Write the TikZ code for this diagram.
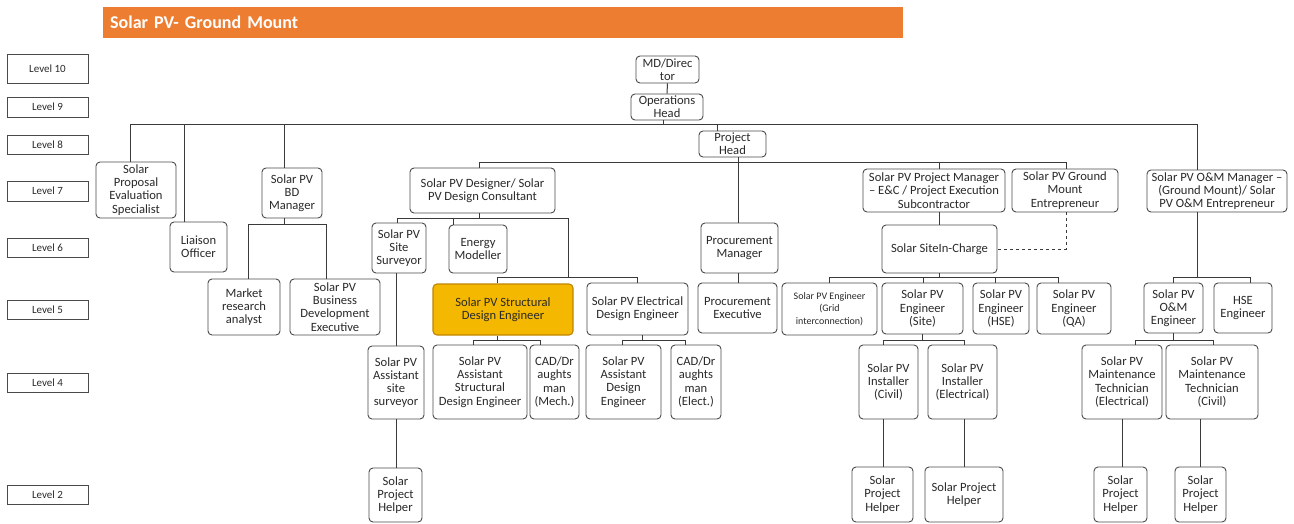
\documentclass[tikz,border=0pt]{standalone}
\usepackage{fontspec}
\setmainfont{Carlito}
\definecolor{titlec}{HTML}{ED7D31}
\definecolor{boxc}{HTML}{4A4A4A}
\definecolor{linec}{HTML}{3A3A3A}
\definecolor{txtc}{HTML}{2A2A2A}
\definecolor{goldc}{HTML}{F5B800}
\definecolor{goldb}{HTML}{C08400}
\tikzset{
  box/.style={draw=boxc, rounded corners=4pt, line width=0.9pt, fill=white, align=center,
    inner sep=1pt, text=txtc, font=\fontsize{12.6}{13.2}\selectfont},
  lvl/.style={draw=boxc, line width=1pt, fill=white, text=txtc, inner sep=0pt,
    font=\fontsize{11}{12}\selectfont},
  conn/.style={draw=linec, line width=1pt},
  hot/.style={fill=goldc, draw=goldb, line width=1.1pt}
}
\newcommand\pbx[7][]{\node[box,minimum width={#5-#3},minimum height={#6-#4},#1] (#2) at ({(#3+#5)/2},{(#4+#6)/2}) {#7};}
\newcommand\lbx[4]{\node[lvl,minimum width=81,minimum height={#4-#3}] (#1) at (47.5,{(#3+#4)/2}) {#2};}
\begin{document}
\begin{tikzpicture}[x=1pt,y=-1pt]
\useasboundingbox (0,0) rectangle (1294,523);
% title
\node[fill=titlec, anchor=north west, minimum width=800pt, minimum height=31pt, text width=786pt,
  inner xsep=7pt, inner ysep=0pt, align=left, text=white, font=\bfseries\fontsize{18}{20}\selectfont] (title) at (103,7) {Solar PV- Ground Mount};
% levels
\lbx{lv10}{Level 10}{54}{83}
\lbx{lv9}{Level 9}{97}{117}
\lbx{lv8}{Level 8}{135}{154}
\lbx{lv7}{Level 7}{181}{201}
\lbx{lv6}{Level 6}{238}{257}
\lbx{lv5}{Level 5}{300}{319}
\lbx{lv4}{Level 4}{373}{392}
\lbx{lv2}{Level 2}{485}{504}
% top
\pbx{md}{636}{56}{699}{83}{MD/Direc\\tor}
\pbx{ops}{631}{94}{703}{120}{Operations\\Head}
\pbx{ph}{699}{131}{766}{157}{Project\\Head}
% left branches
\pbx{spe}{96}{162}{176}{218}{Solar\\Proposal\\Evaluation\\Specialist}
\pbx{lia}{170}{222}{227}{272}{Liaison\\Officer}
\pbx{bdm}{262}{168}{322}{218}{Solar PV\\BD\\Manager}
\pbx{mra}{208}{279}{280}{335}{Market\\research\\analyst}
\pbx{bde}{290}{279}{380}{335}{Solar PV\\Business\\Development\\Executive}
% design branch
\pbx{des}{410}{168}{555}{213}{Solar PV Designer/ Solar\\PV Design Consultant}
\pbx{ssv}{372}{223}{426}{273}{Solar PV\\Site\\Surveyor}
\pbx{enm}{449}{225}{507}{273}{Energy\\Modeller}
\pbx[hot]{sde}{433}{284}{573}{335}{Solar PV Structural\\Design Engineer}
\pbx{ede}{587}{283}{688}{335}{Solar PV Electrical\\Design Engineer}
\pbx{ass}{368}{346}{424}{419}{Solar PV\\Assistant\\site\\surveyor}
\pbx{asde}{433}{345}{527}{419}{Solar PV\\Assistant\\Structural\\Design Engineer}
\pbx{cadm}{530}{345}{579}{419}{CAD/Dr\\aughts\\man\\(Mech.)}
\pbx{ade}{586}{345}{661}{419}{Solar PV\\Assistant\\Design\\Engineer}
\pbx{cade}{671}{345}{721}{419}{CAD/Dr\\aughts\\man\\(Elect.)}
\pbx{hlpa}{369}{468}{422}{522}{Solar\\Project\\Helper}
% procurement
\pbx{pm}{701}{223}{778}{273}{Procurement\\Manager}
\pbx{pe}{698}{283}{777}{333}{Procurement\\Executive}
% execution
\pbx{ppm}{863}{169}{1005}{212}{Solar PV Project Manager\\– E\&C / Project Execution\\Subcontractor}
\pbx{gme}{1012}{169}{1118}{212}{Solar PV Ground\\Mount\\Entrepreneur}
\pbx{sic}{882}{225}{997}{273}{Solar SiteIn-Charge}
\pbx[font=\fontsize{10}{12.5}\selectfont]{egr}{782}{283}{877}{335}{Solar PV Engineer\\(Grid\\interconnection)}
\pbx{esi}{882}{283}{963}{334}{Solar PV\\Engineer\\(Site)}
\pbx{ehse}{973}{283}{1029}{334}{Solar PV\\Engineer\\(HSE)}
\pbx{eqa}{1037}{283}{1111}{334}{Solar PV\\Engineer\\(QA)}
\pbx{inc}{859}{345}{918}{419}{Solar PV\\Installer\\(Civil)}
\pbx{ine}{928}{345}{997}{419}{Solar PV\\Installer\\(Electrical)}
\pbx{hlpb}{852}{467}{913}{522}{Solar\\Project\\Helper}
\pbx{hlpc}{925}{467}{1003}{522}{Solar Project\\Helper}
% O&M
\pbx{omm}{1147}{170}{1287}{212}{Solar PV O\&M Manager –\\(Ground Mount)/ Solar\\PV O\&M Entrepreneur}
\pbx{ome}{1144}{283}{1203}{333}{Solar PV\\O\&M\\Engineer}
\pbx{hse}{1214}{283}{1272}{333}{HSE\\Engineer}
\pbx{mte}{1082}{345}{1162}{419}{Solar PV\\Maintenance\\Technician\\(Electrical)}
\pbx{mtc}{1166}{345}{1258}{419}{Solar PV\\Maintenance\\Technician\\(Civil)}
\pbx{hlpd}{1094}{467}{1147}{522}{Solar\\Project\\Helper}
\pbx{hlpe}{1175}{467}{1226}{522}{Solar\\Project\\Helper}
% bus coordinates
\coordinate (busL) at (130,124);
\coordinate (busR) at (1197,124);
\coordinate (bLia) at (184,124);
\coordinate (bBdm) at (284,124);
\coordinate (bPh) at (717,124);
\coordinate (bOps) at (663,124);
\coordinate (b2L) at (479,162);
\coordinate (b2R) at (1066,162);
\coordinate (b2P) at (939,162);
\coordinate (bdL) at (248,224);
\coordinate (bdR) at (326,224);
\coordinate (dsL) at (397,218);
\coordinate (dsM) at (453,218);
\coordinate (dsR) at (568,218);
\coordinate (dsR2) at (568,277);
\coordinate (deL) at (497,277);
\coordinate (deR) at (637,277);
\coordinate (sdL) at (473,340);
\coordinate (sdR) at (540,340);
\coordinate (sdM) at (497,340);
\coordinate (edL) at (622,340);
\coordinate (edR) at (685,340);
\coordinate (edM) at (642,340);
\coordinate (sxL) at (829,277);
\coordinate (sxA) at (923,277);
\coordinate (sxB) at (995,277);
\coordinate (sxR) at (1058,277);
\coordinate (siL) at (883,340);
\coordinate (siR) at (964,340);
\coordinate (siM) at (922,340);
\coordinate (omL) at (1173,277);
\coordinate (omR) at (1250,277);
\coordinate (oeL) at (1135,340);
\coordinate (oeR) at (1213,340);
\coordinate (oeM) at (1173,340);
\coordinate (vA) at (396,0);
\coordinate (vP) at (738,0);
% connectors
\draw[conn] (md) -- (ops);
\draw[conn] (ops.south -| bOps) -- (bOps);
\draw[conn] (busL) -- (busR);
\draw[conn] (busL) -- (busL |- spe.north);
\draw[conn] (bLia) -- (bLia |- lia.north);
\draw[conn] (bBdm) -- (bBdm |- bdm.north);
\draw[conn] (bPh) -- (bPh |- ph.north);
\draw[conn] (busR) -- (busR |- omm.north);
\draw[conn] (b2L) -- (b2R);
\draw[conn] (ph.south -| vP) -- (vP |- pm.north);
\draw[conn] (b2L) -- (b2L |- des.north);
\draw[conn] (b2P) -- (b2P |- ppm.north);
\draw[conn] (b2R) -- (b2R |- gme.north);
% BD manager
\draw[conn] (bBdm |- bdm.south) -- (bBdm |- bdL);
\draw[conn] (bdL) -- (bdR);
\draw[conn] (bdL) -- (bdL |- mra.north);
\draw[conn] (bdR) -- (bdR |- bde.north);
% designer
\draw[conn] (des.south -| b2L) -- (b2L |- dsL);
\draw[conn] (dsL) -- (dsR) -- (dsR2);
\draw[conn] (dsL) -- (dsL |- ssv.north);
\draw[conn] (dsM) -- (dsM |- enm.north);
\draw[conn] (deL) -- (deR);
\draw[conn] (deL) -- (deL |- sde.north);
\draw[conn] (deR) -- (deR |- ede.north);
\draw[conn] (ssv.south -| vA) -- (vA |- ass.north);
\draw[conn] (ass.south -| vA) -- (vA |- hlpa.north);
\draw[conn] (sde.south -| sdM) -- (sdM);
\draw[conn] (sdL) -- (sdR);
\draw[conn] (sdL) -- (sdL |- asde.north);
\draw[conn] (sdR) -- (sdR |- cadm.north);
\draw[conn] (ede.south -| edM) -- (edM);
\draw[conn] (edL) -- (edR);
\draw[conn] (edL) -- (edL |- ade.north);
\draw[conn] (edR) -- (edR |- cade.north);
% procurement
\draw[conn] (pm.south -| vP) -- (vP |- pe.north);
% execution
\draw[conn] (ppm.south -| b2P) -- (b2P |- sic.north);
\draw[conn, dashed, dash pattern=on 3pt off 3pt] (gme.south -| b2R) |- (sic.east);
\draw[conn] (sic.south -| b2P) -- (b2P |- sxL);
\draw[conn] (sxL) -- (sxR);
\draw[conn] (sxL) -- (sxL |- egr.north);
\draw[conn] (sxA) -- (sxA |- esi.north);
\draw[conn] (sxB) -- (sxB |- ehse.north);
\draw[conn] (sxR) -- (sxR |- eqa.north);
\draw[conn] (esi.south -| siM) -- (siM);
\draw[conn] (siL) -- (siR);
\draw[conn] (siL) -- (siL |- inc.north);
\draw[conn] (siR) -- (siR |- ine.north);
\draw[conn] (inc.south -| siL) -- (siL |- hlpb.north);
\draw[conn] (ine.south -| siR) -- (siR |- hlpc.north);
% O&M
\draw[conn] (omm.south -| busR) -- (busR |- omL);
\draw[conn] (omL) -- (omR);
\draw[conn] (omL) -- (omL |- ome.north);
\draw[conn] (omR) -- (omR |- hse.north);
\draw[conn] (ome.south -| oeM) -- (oeM);
\draw[conn] (oeL) -- (oeR);
\draw[conn] (oeL) -- (oeL |- mte.north);
\draw[conn] (oeR) -- (oeR |- mtc.north);
\draw[conn] (mte.south) -- (mte.south |- hlpd.north);
\draw[conn] (mtc.south -| hlpe.north) -- (hlpe.north);
\end{tikzpicture}
\end{document}
